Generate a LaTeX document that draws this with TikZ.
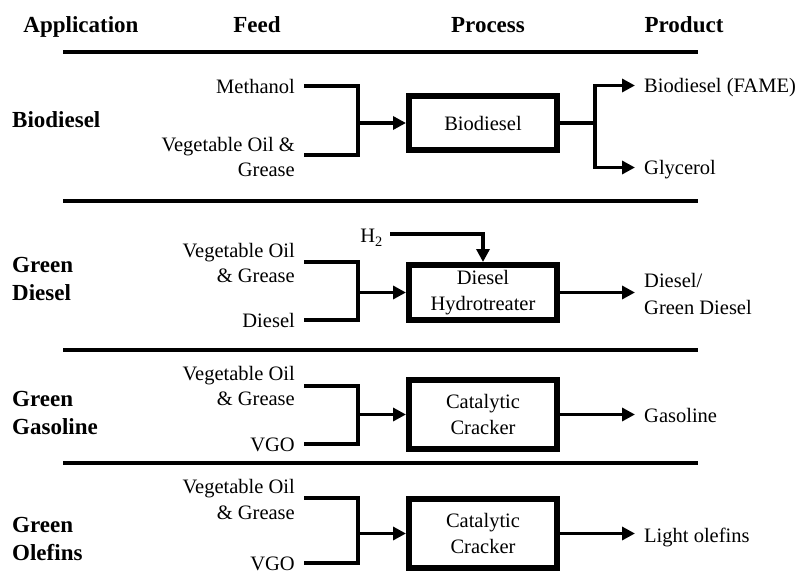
\documentclass[tikz,border=0pt]{standalone}
\usepackage{fontspec}
\setmainfont{Liberation Serif}
\usetikzlibrary{arrows.meta}
\begin{document}
\begin{tikzpicture}[x=1pt,y=-1pt,
  hdr/.style={font=\fontsize{23}{27}\selectfont\bfseries, anchor=base, inner sep=0pt},
  applbl/.style={font=\fontsize{23}{27}\selectfont\bfseries, anchor=base west, inner sep=0pt},
  txt/.style={font=\fontsize{20.5}{25}\selectfont, inner xsep=9pt, inner ysep=0pt, text height=15pt, text depth=0pt},
  feed/.style={txt, anchor=base east},
  prod/.style={txt, anchor=base west},
  procbox/.style={draw, line width=6pt, minimum width=148pt, align=center,
    font=\fontsize{20.5}{26.5}\selectfont, inner sep=0pt},
  rulebar/.style={line width=4pt},
  flow/.style={line width=4pt, line join=miter},
  arr/.style={line width=3.5pt, line join=miter, -{Triangle[length=13pt,width=13pt]}}
]
\useasboundingbox (0,0) rectangle (803,572);

% headers
\node[hdr] (hApp) at (81,33) {Application};
\node[hdr] (hFeed) at (257,33) {Feed};
\node[hdr] (hProc) at (488,33) {Process};
\node[hdr] (hProd) at (684,33) {Product};

% rules
\coordinate (r0a) at (63,52);  \coordinate (r0b) at (698,52);
\coordinate (r1a) at (63,201); \coordinate (r1b) at (698,201);
\coordinate (r2a) at (63,350); \coordinate (r2b) at (698,350);
\coordinate (r3a) at (63,463); \coordinate (r3b) at (698,463);
\draw[rulebar] (r0a) -- (r0b);
\draw[rulebar] (r1a) -- (r1b);
\draw[rulebar] (r2a) -- (r2b);
\draw[rulebar] (r3a) -- (r3b);

% ---------- Row 1: Biodiesel ----------
\node[applbl] (l1) at (12,128) {Biodiesel};
\node[feed] (meth) at (304,94) {Methanol};
\node[feed] (veg1a) at (304,152) {Vegetable Oil \&};
\node[feed] (veg1b) at (304,177) {Grease};
\coordinate (v1) at (304,155);
\node[procbox, minimum height=54pt] (P1) at (483,123) {Biodiesel};
\coordinate (j1) at (358,123);
\draw[flow] (meth.east) -| (j1) |- (v1);
\draw[arr] (j1) -- (P1.west);
\node[prod] (fame) at (635,93) {Biodiesel (FAME)};
\node[prod] (glyc) at (635,175) {Glycerol};
\coordinate (s1) at (595,123);
\draw[flow] (P1.east) -- (s1);
\draw[arr] (s1) |- (fame.west);
\draw[arr] (s1) |- (glyc.west);

% ---------- Row 2: Green Diesel ----------
\node[applbl] (l2a) at (12,272) {Green};
\node[applbl] (l2b) at (12,300) {Diesel};
\node[feed] (veg2a) at (304,257) {Vegetable Oil};
\node[feed] (veg2b) at (304,282) {\& Grease};
\coordinate (v2) at (304,262);
\node[feed] (dsl) at (304,327) {Diesel};
\node[procbox, minimum height=55pt] (P2) at (483,292.5) {Diesel\\Hydrotreater};
\coordinate (j2) at (358,292.5);
\draw[flow] (v2) -| (j2) |- (dsl.east);
\draw[arr] (j2) -- (P2.west);
\node[font=\fontsize{20.5}{25}\selectfont, anchor=base east, inner xsep=7pt, inner ysep=0pt] (h2) at (390,243) {H\textsubscript{2}};
\coordinate (h2s) at (390,234);
\coordinate (h2c) at (483,234);
\draw[arr] (h2s) -- (h2c) -- (P2.north);
\node[prod] (gd1) at (635,287) {Diesel/};
\node[prod] (gd2) at (635,314) {Green Diesel};
\coordinate (o2) at (635,292.5);
\draw[arr] (P2.east) -- (o2);

% ---------- Row 3: Green Gasoline ----------
\node[applbl] (l3a) at (12,406) {Green};
\node[applbl] (l3b) at (12,434) {Gasoline};
\node[feed] (veg3a) at (304,380) {Vegetable Oil};
\node[feed] (veg3b) at (304,405) {\& Grease};
\coordinate (v3) at (304,386);
\node[feed] (vgo3) at (304,451) {VGO};
\node[procbox, minimum height=69pt] (P3) at (483,414.5) {Catalytic\\Cracker};
\coordinate (j3) at (358,414.5);
\draw[flow] (v3) -| (j3) |- (vgo3.east);
\draw[arr] (j3) -- (P3.west);
\node[prod] (gas) at (635,422) {Gasoline};
\draw[arr] (P3.east) -- (P3.east -| gas.west);

% ---------- Row 4: Green Olefins ----------
\node[applbl] (l4a) at (12,532) {Green};
\node[applbl] (l4b) at (12,560) {Olefins};
\node[feed] (veg4a) at (304,493) {Vegetable Oil};
\node[feed] (veg4b) at (304,519) {\& Grease};
\coordinate (v4) at (304,498);
\node[feed] (vgo4) at (304,570) {VGO};
\node[procbox, minimum height=69pt] (P4) at (483,533.5) {Catalytic\\Cracker};
\coordinate (j4) at (358,533.5);
\draw[flow] (v4) -| (j4) |- (vgo4.east);
\draw[arr] (j4) -- (P4.west);
\node[prod] (olef) at (635,542) {Light olefins};
\draw[arr] (P4.east) -- (P4.east -| olef.west);
\end{tikzpicture}
\end{document}
